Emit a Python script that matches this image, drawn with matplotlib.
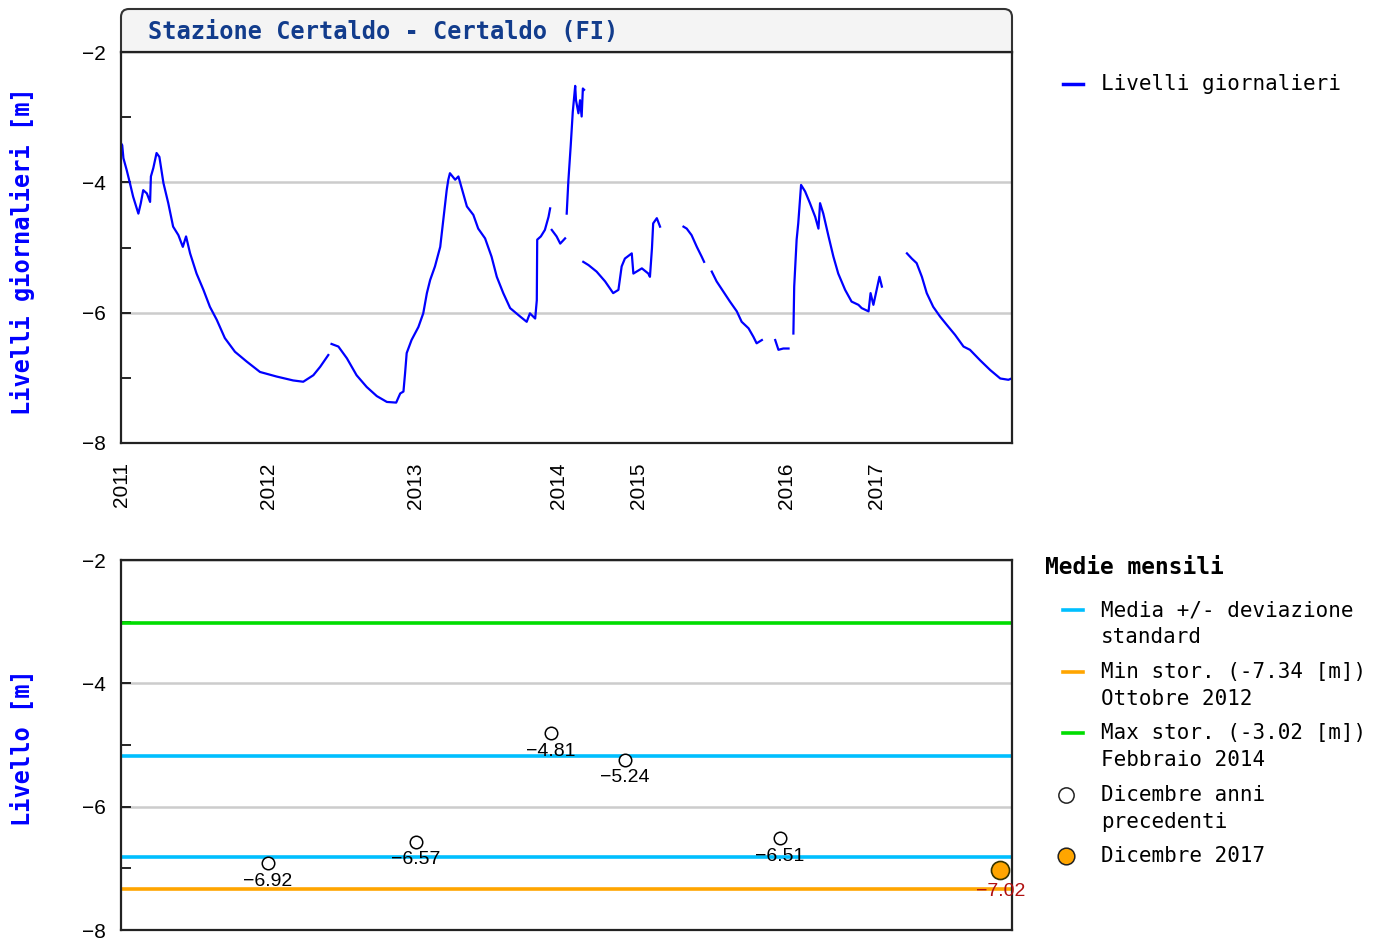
import matplotlib
matplotlib.use("Agg")
import matplotlib.pyplot as plt
import numpy as np
from matplotlib.lines import Line2D
from matplotlib.patches import FancyBboxPatch
from matplotlib.transforms import IdentityTransform

W, H = 1382, 941
nan = np.nan

# livelli giornalieri (indice giorno, livello in m); nan = dato mancante
giorni = [0, 3, 6, 14, 22, 30, 43, 49, 55, 64, 72, 74, 80, 88, 95, 105, 117, 129,
          142, 153, 161, 171, 187, 204, 220, 237, 257, 282, 311, 344, 385, 426,
          451, 476, 493, 513, nan,
          521, 538, 559, 583, 608, 633, 658, 681, 691, 699, 703, 707, 719, 736,
          748, 757, 765, 777, 790, 798, 806, 810, 814, 827, 835, 847, 856, 872,
          884, 901, 917, 930, 946, 963, 988, 1004, 1012, 1025, 1029, 1030, 1039,
          1049, 1058, 1062, nan,
          1066, 1078, 1087, 1099, nan,
          1103, 1107, 1113, 1118, 1124, 1126, 1132, 1136, 1140, 1143, 1146, nan,
          1144, 1157, 1177, 1198, 1218, 1231, 1239, 1247, 1264, 1268, 1289, 1305,
          1309, 1314, 1317, 1326, 1334, nan,
          1392, 1400, 1412, 1425, 1437, 1443, nan,
          1462, 1474, 1491, 1507, 1524, 1536, 1553, 1565, 1573, 1586, nan,
          1619, 1627, 1639, 1652, nan,
          1664, 1666, 1672, 1676, 1683, 1693, 1705, 1718, 1726, 1730, 1738, 1751,
          1763, 1775, 1792, 1808, 1825, 1833, 1850, 1855, 1862, 1870, 1877, 1883,
          nan,
          1945, 1957, 1969, 1982, 1994, 2010, 2027, 2044, 2064, 2085, 2101, 2126,
          2151, 2176, 2196, 2204]
livelli = [-3.40, -3.43, -3.63, -3.81, -4.01, -4.22, -4.48, -4.32, -4.12, -4.17,
           -4.30, -3.91, -3.78, -3.55, -3.61, -4.01, -4.32, -4.68, -4.81, -4.99,
           -4.83, -5.09, -5.40, -5.65, -5.91, -6.11, -6.39, -6.60, -6.75, -6.91,
           -6.98, -7.04, -7.06, -6.96, -6.83, -6.65, nan,
           -6.48, -6.52, -6.70, -6.96, -7.14, -7.28, -7.37, -7.38, -7.24, -7.21,
           -6.93, -6.62, -6.42, -6.22, -6.01, -5.70, -5.50, -5.29, -4.99, -4.55,
           -4.12, -3.96, -3.86, -3.96, -3.91, -4.17, -4.37, -4.50, -4.71, -4.86,
           -5.14, -5.45, -5.70, -5.93, -6.06, -6.14, -6.01, -6.09, -5.81, -4.88,
           -4.83, -4.73, -4.53, -4.40, nan,
           -4.73, -4.83, -4.94, -4.86, nan,
           -4.48, -3.99, -3.43, -2.92, -2.52, -2.74, -2.94, -2.74, -2.99, -2.56,
           -2.58, nan,
           -5.22, -5.27, -5.37, -5.52, -5.70, -5.65, -5.29, -5.17, -5.09, -5.40,
           -5.32, -5.40, -5.45, -5.01, -4.63, -4.55, -4.68, nan,
           -4.68, -4.71, -4.81, -4.99, -5.14, -5.22, nan,
           -5.37, -5.52, -5.68, -5.83, -5.98, -6.14, -6.24, -6.37, -6.47, -6.42,
           nan,
           -6.42, -6.57, -6.55, -6.55, nan,
           -6.32, -5.60, -4.88, -4.63, -4.04, -4.14, -4.32, -4.53, -4.71, -4.32,
           -4.48, -4.83, -5.14, -5.40, -5.65, -5.83, -5.88, -5.93, -5.98, -5.70,
           -5.88, -5.65, -5.45, -5.60, nan,
           -5.09, -5.17, -5.24, -5.45, -5.70, -5.91, -6.06, -6.19, -6.34, -6.52,
           -6.57, -6.73, -6.88, -7.01, -7.03, -7.01]

anni = ["2011", "2012", "2013", "2014", "2015", "2016", "2017"]
anni_pos = [0, 364, 730, 1082, 1280, 1646, 1869]
x_fine = 2205

# medie mensili di dicembre
dic_pos = [364, 730, 1064, 1247, 1631]
dic_val = [-6.92, -6.57, -4.81, -5.24, -6.51]
dic_2017_pos = 2176
dic_2017_val = -7.02
media = -6.00
dev_std = 0.82
min_stor = -7.34
max_stor = -3.02

MONO = "DejaVu Sans Mono"
SANS = "Liberation Sans"


def pix(px, py):
    return px, H - py


def setup_axis(ax):
    ax.set_xlim(0, x_fine)
    ax.set_ylim(-8, -2)
    ax.set_yticks([-8, -6, -4, -2])
    ax.set_yticks([-7, -5, -3], minor=True)
    ax.tick_params(axis="y", which="both", direction="in", length=7, width=1.2,
                   pad=11, labelsize=15)
    for lab in ax.get_yticklabels():
        lab.set_fontfamily(SANS)
    for s in ax.spines.values():
        s.set_linewidth(1.6)
        s.set_color("#222222")
    ax.grid(axis="y", which="major", color="#cccccc", lw=1.8)
    ax.set_axisbelow(True)


fig = plt.figure(figsize=(W / 100, H / 100), dpi=100)

# grafico superiore: livelli giornalieri
ax1 = fig.add_axes([121 / W, 1 - 443 / H, 891 / W, 391 / H])
setup_axis(ax1)
ax1.plot(giorni, livelli, color="#0000ff", lw=1.6)
ax1.set_xticks(anni_pos)
ax1.set_xticklabels(anni, rotation=90, fontsize=15, fontfamily=SANS)
ax1.tick_params(axis="x", length=0, pad=14)

# barra del titolo
barra = FancyBboxPatch(pix(121, 62), 891, 53, boxstyle="round,pad=0,rounding_size=8",
                       transform=IdentityTransform(), facecolor="#f4f4f4",
                       edgecolor="#333333", lw=1.5, zorder=-1)
fig.add_artist(barra)
fig.text(*pix(148, 32), "Stazione Certaldo - Certaldo (FI)", transform=IdentityTransform(),
         fontfamily=MONO, fontweight="bold", fontsize=17, color="#123c8c",
         ha="left", va="center")
fig.text(*pix(23, 251), "Livelli giornalieri [m]", transform=IdentityTransform(),
         fontfamily=MONO, fontweight="bold", fontsize=17, color="#0000ff",
         rotation=90, ha="center", va="center")

# grafico inferiore: medie mensili
ax2 = fig.add_axes([121 / W, 1 - 930 / H, 891 / W, 370 / H])
setup_axis(ax2)
ax2.set_xticks([])
ax2.axhline(max_stor, color="#00dd00", lw=2.6, zorder=2)
ax2.axhline(min_stor, color="#ffa500", lw=2.6, zorder=2)
ax2.axhline(media + dev_std, color="#00bfff", lw=2.6, zorder=2)
ax2.axhline(media - dev_std, color="#00bfff", lw=2.6, zorder=2)
ax2.plot(dic_pos, dic_val, "o", ms=9, mfc="white", mec="black", mew=1.1, zorder=4)
for x, v in zip(dic_pos, dic_val):
    ax2.annotate(f"{v:.2f}".replace("-", "\u2212"), (x, v), xytext=(0, -13),
                 textcoords="offset points", ha="center", va="center",
                 fontsize=14, fontfamily=SANS, color="black", zorder=5)
ax2.plot([dic_2017_pos], [dic_2017_val], "o", ms=13, mfc="#ffa500", mec="#333300",
         mew=1.2, zorder=4, clip_on=False)
ax2.annotate(f"{dic_2017_val:.2f}".replace("-", "\u2212"), (dic_2017_pos, dic_2017_val),
             xytext=(0, -16), textcoords="offset points", ha="center", va="center",
             fontsize=14, fontfamily=SANS, color="#b01010", zorder=5,
             annotation_clip=False)
fig.text(*pix(23, 748), "Livello [m]", transform=IdentityTransform(),
         fontfamily=MONO, fontweight="bold", fontsize=17, color="#0000ff",
         rotation=90, ha="center", va="center")

# legende
fig.add_artist(Line2D([1063, 1083], [H - 84, H - 84], transform=IdentityTransform(),
                      color="#0000ff", lw=2.5))
fig.text(*pix(1101, 84), "Livelli giornalieri", transform=IdentityTransform(),
         fontfamily=MONO, fontsize=15, ha="left", va="center")

fig.text(*pix(1045, 568), "Medie mensili", transform=IdentityTransform(),
         fontfamily=MONO, fontweight="bold", fontsize=16.5, ha="left", va="center")
voci = [
    ("line", "#00bfff", 610, ["Media +/- deviazione", "standard"]),
    ("line", "#ffa500", 672, ["Min stor. (-7.34 [m])", "Ottobre 2012"]),
    ("line", "#00dd00", 733, ["Max stor. (-3.02 [m])", "Febbraio 2014"]),
    ("open", "white", 795, ["Dicembre anni", "precedenti"]),
    ("full", "#ffa500", 856, ["Dicembre 2017"]),
]
for tipo, col, y, righe in voci:
    if tipo == "line":
        fig.add_artist(Line2D([1063, 1083], [H - y, H - y], transform=IdentityTransform(),
                              color=col, lw=2.6))
    else:
        fig.add_artist(Line2D([1066], [H - y], transform=IdentityTransform(), marker="o",
                              ms=11 if tipo == "open" else 12, mfc=col, mec="#222222",
                              mew=1.1, ls="none"))
    for i, r in enumerate(righe):
        fig.text(*pix(1101, y + 27 * i), r, transform=IdentityTransform(),
                 fontfamily=MONO, fontsize=15, ha="left", va="center")

fig.savefig("out.png", dpi=100)
